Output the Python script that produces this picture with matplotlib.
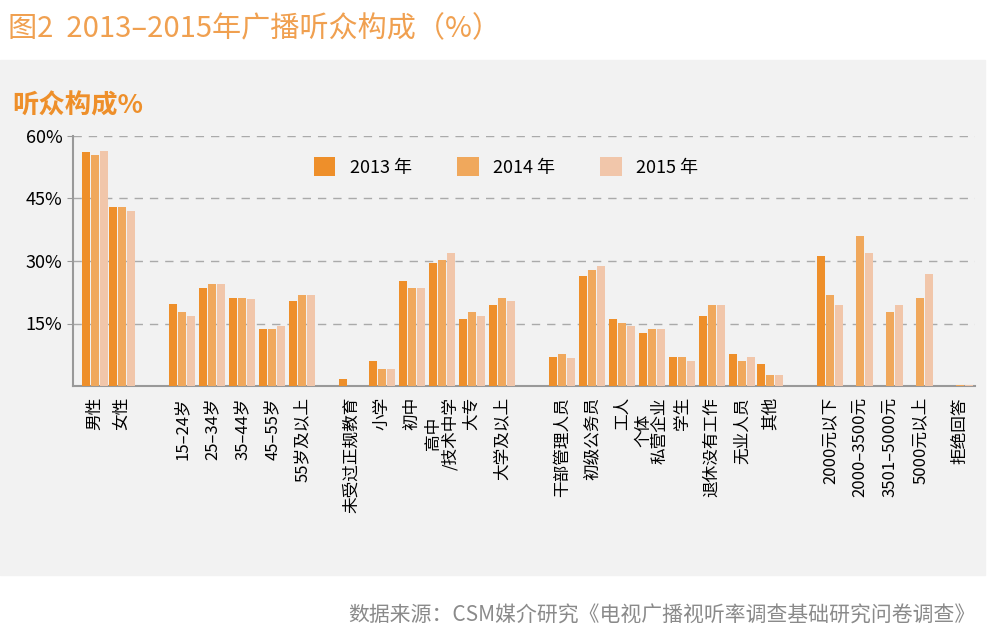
import numpy as np
import matplotlib.pyplot as plt
from matplotlib.patches import Rectangle

plt.rcParams['font.family'] = ['Noto Sans CJK SC', 'DejaVu Sans']

labels = ['男性', '女性',
          '15–24岁', '25–34岁', '35–44岁', '45–55岁', '55岁及以上',
          '未受过正规教育', '小学', '初中', '高中\n/技术中学', '大专', '大学及以上',
          '干部管理人员', '初级公务员', '工人', '个体\n私营企业', '学生', '退休没有工作', '无业人员', '其他',
          '2000元以下', '2000–3500元', '3501–5000元', '5000元以上', '拒绝回答']
v2013 = [56.1, 43.0, 19.6, 23.6, 21.1, 13.6, 20.3,
         1.8, 6.1, 25.3, 29.5, 16.1, 19.5,
         6.9, 26.3, 16.1, 12.8, 6.9, 16.9, 7.7, 5.2,
         31.2, 0, 0, 0, 0]
v2014 = [55.5, 43.0, 17.8, 24.5, 21.1, 13.6, 21.9,
         0, 4.2, 23.6, 30.3, 17.8, 21.1,
         7.6, 27.8, 15.2, 13.6, 6.9, 19.5, 6.0, 2.6,
         21.9, 36.1, 17.7, 21.1, 0.3]
v2015 = [56.3, 42.0, 16.9, 24.5, 21.0, 14.4, 21.9,
         0, 4.2, 23.6, 32.0, 16.9, 20.3,
         6.8, 28.7, 14.4, 13.6, 6.0, 19.5, 6.9, 2.6,
         19.5, 32.0, 19.5, 27.0, 0.3]
years = ['2013 年', '2014 年', '2015 年']
colors = ['#ee8f2a', '#f0a85c', '#f1c6aa']

# group centres in pixel-ish units
pos = np.array([95, 122, 182, 212, 242, 272, 302, 352, 382, 412, 442, 472, 502,
                562, 592, 622, 652, 682, 712, 742, 770, 830, 860, 890, 920, 960]) / 30.0

fig = plt.figure(figsize=(9.97, 6.41), dpi=100)
fig.patches.append(Rectangle((0, (641 - 575) / 641), 985 / 997, 515 / 641,
                             transform=fig.transFigure, color='#f2f2f2', zorder=-10))
ax = fig.add_axes([73 / 997, 255 / 641, 902 / 997, 250 / 641])
ax.set_facecolor('none')

w = 0.29
for i, (vals, c, yr) in enumerate(zip([v2013, v2014, v2015], colors, years)):
    ax.bar(pos + (i - 1) * w, vals, width=w * 0.92, color=c, label=yr, zorder=3)

ax.set_xlim(73 / 30.0, 975 / 30.0)
ax.set_ylim(0, 60)
ax.set_yticks([15, 30, 45, 60])
ax.set_yticklabels(['15%', '30%', '45%', '60%'], fontsize=13)
ax.yaxis.grid(True, linestyle=(0, (6, 5)), color='#aaaaaa', linewidth=1)
ax.set_xticks(pos)
ax.set_xticklabels(labels, rotation=90, fontsize=12, linespacing=1.0)
ax.tick_params(axis='x', length=0, pad=8)
ax.tick_params(axis='y', length=4, color='#999999')
for s in ['top', 'right']:
    ax.spines[s].set_visible(False)
for s in ['left', 'bottom']:
    ax.spines[s].set_color('#999999')
    ax.spines[s].set_linewidth(1.5)

ax.legend(loc='upper center', bbox_to_anchor=(0.48, 0.98), ncol=3, frameon=False,
          fontsize=13, handlelength=1.2, handleheight=1.2, columnspacing=2.5)

fig.text(0.008, 0.955, '图2  2013–2015年广播听众构成（%）', color='#f0a050', fontsize=21, va='center')
fig.text(0.012, 0.835, '听众构成%', color='#ee8f2a', fontsize=19, fontweight='bold', va='center')
fig.text(0.978, 0.04, '数据来源：CSM媒介研究《电视广播视听率调查基础研究问卷调查》',
         color='#8a8a8a', fontsize=15, ha='right', va='center')

fig.savefig('out.png', dpi=100)
